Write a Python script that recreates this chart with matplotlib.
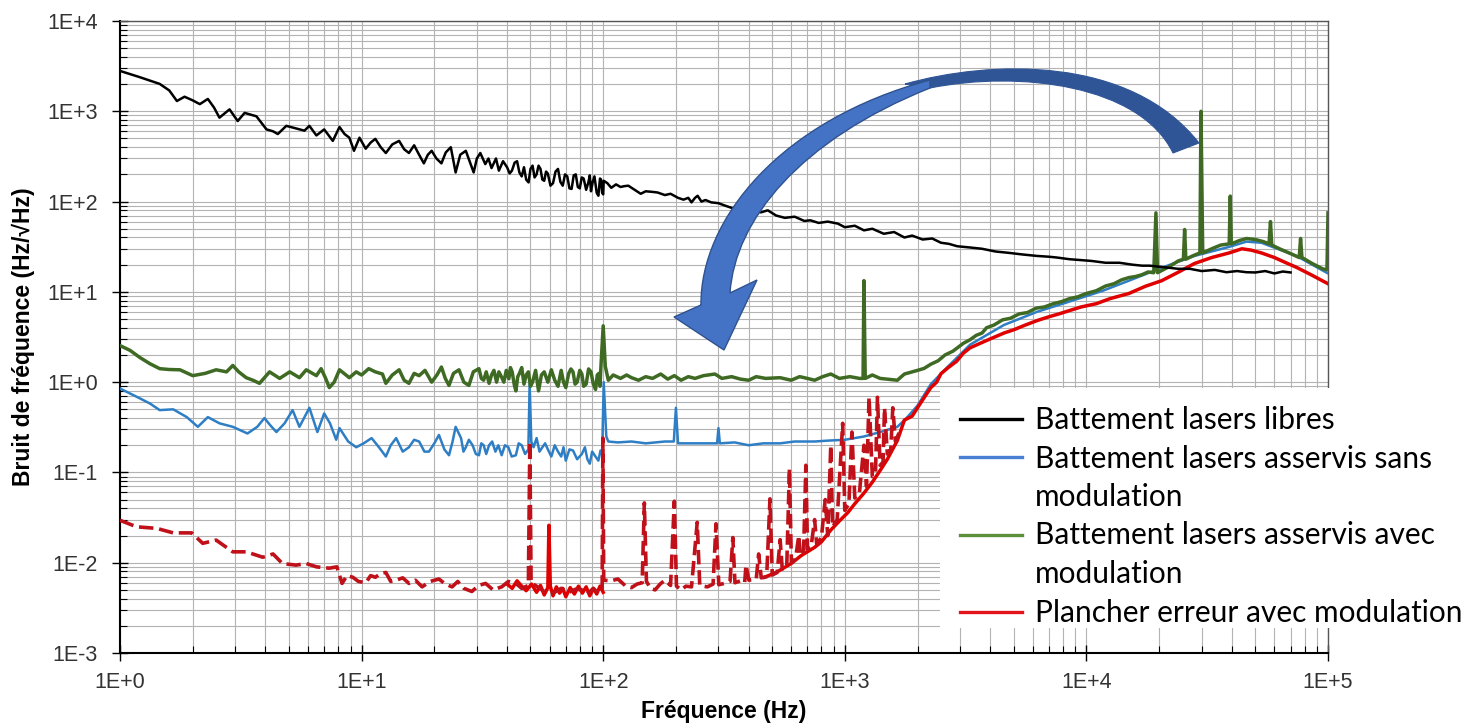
import matplotlib
matplotlib.use("Agg")
import matplotlib.pyplot as plt
import numpy as np
from matplotlib.ticker import LogLocator, FuncFormatter, NullFormatter
from matplotlib.path import Path
from matplotlib.patches import PathPatch, Rectangle
from matplotlib.lines import Line2D

# ---- values (frequency Hz, noise Hz/sqrt(Hz)) ----
libres = [(1.0, 2800), (1.2, 2400), (1.46, 2010), (1.6, 1700), (1.72, 1300), (1.85, 1450),
          (2.0, 1320), (2.14, 1200), (2.31, 1370), (2.45, 1100), (2.58, 850), (2.84, 1050),
          (3.07, 780), (3.28, 960), (3.67, 880), (4.04, 630), (4.3, 600), (4.5, 560),
          (4.88, 690), (5.3, 650), (5.8, 610), (6.08, 690), (6.5, 540), (7.0, 630),
          (7.6, 470), (8.1, 670), (8.5, 560), (8.9, 510), (9.3, 365), (9.8, 510),
          (10.4, 385), (10.9, 450), (11.4, 495), (12.0, 400), (12.6, 345), (13.4, 430),
          (14.3, 470), (15.0, 380), (15.7, 345), (16.5, 420), (17.3, 330), (18.1, 265),
          (18.8, 330), (19.5, 365), (20.4, 300), (21.4, 265), (22.3, 350), (23.4, 400),
          (24.5, 210), (25.6, 330), (27.0, 365), (28.0, 280), (29.1, 210), (30.0, 300),
          (31.0, 345), (32.5, 260), (33.5, 300), (34.5, 235), (36.0, 300), (37.0, 220),
          (38.5, 280), (40.0, 240), (41, 205), (41.9, 220), (43, 270), (44.0, 280),
          (45, 210), (46.0, 190), (47, 240), (48, 175), (49.1, 163), (50, 230), (51, 250),
          (52, 185), (53, 200), (54, 250), (55, 230), (56, 175), (57, 170), (58, 215),
          (59, 204), (60.5, 150), (62, 160), (63.5, 215), (65, 230), (66.5, 165), (68, 150),
          (69.5, 200), (71, 190), (72.5, 140), (74, 138), (75.5, 195), (77, 200),
          (78.5, 145), (80, 140), (81.5, 185), (83, 180), (85, 135), (86.8, 163), (88, 195),
          (89, 130), (90.5, 165), (92, 190), (94, 125), (95.5, 116), (97, 180), (98, 175),
          (99, 125), (100, 120), (100.5, 170), (104, 160), (108, 142), (113, 155),
          (118, 145), (122, 148), (127, 150), (135, 135), (143, 122), (150, 130),
          (160, 128), (168, 126), (180, 118), (190, 122), (204, 110), (215, 105),
          (225, 110), (232, 98), (240, 110), (246, 116), (255, 100), (265, 104), (280, 98),
          (300, 96), (320, 90), (350, 83), (380, 86), (410, 78), (450, 76), (480, 80),
          (520, 70), (565, 66), (620, 68), (680, 61), (720, 62), (780, 58), (850, 60),
          (936, 57), (1000, 52), (1100, 54), (1200, 48), (1300, 50), (1450, 44),
          (1600, 46), (1765, 40), (1900, 42), (2100, 38), (2300, 39), (2500, 35),
          (2700, 34), (2920, 32), (3300, 31), (3700, 30), (4200, 28), (4800, 27),
          (5400, 26), (6240, 25), (7000, 24.5), (7550, 24), (8500, 23), (9500, 22.5),
          (10500, 22), (12000, 21), (13700, 21), (15500, 20), (17000, 19.5), (18300, 19.5),
          (20000, 19), (22000, 18.5), (24000, 18), (26800, 18), (30000, 17), (34000, 17.5),
          (38000, 16.5), (42000, 17), (46000, 16.5), (50000, 16.4), (55000, 17),
          (60000, 16), (65000, 16.8), (70000, 16.4)]

avec_mod = [(1.0, 2.54), (1.1, 2.25), (1.21, 1.87), (1.33, 1.6), (1.46, 1.41), (1.6, 1.38),
            (1.77, 1.37), (2.0, 1.18), (2.25, 1.25), (2.5, 1.37), (2.76, 1.3), (2.93, 1.53),
            (3.1, 1.3), (3.33, 1.12), (3.55, 1.05), (3.78, 0.97), (4.16, 1.3), (4.58, 1.1),
            (5.04, 1.3), (5.53, 1.12), (5.9, 1.37), (6.5, 1.18), (6.8, 1.41), (7.1, 1.1),
            (7.35, 0.87), (7.7, 1.0), (8.1, 1.37), (8.9, 1.12), (9.5, 1.3), (10.0, 1.2),
            (10.7, 1.41), (11.4, 1.3), (12.2, 1.23), (12.6, 0.97), (13.4, 1.2), (14.3, 1.37),
            (15.0, 1.05), (15.7, 0.97), (16.5, 1.25), (17.3, 1.18), (18.3, 1.35), (19.5, 1.0),
            (20.5, 1.2), (21.4, 1.47), (22.2, 1.1), (23.0, 0.92), (24.0, 1.25), (25.3, 1.37),
            (26.5, 1.0), (27.8, 0.92), (29.0, 1.3), (30.6, 1.41), (31.3, 1.1), (32.0, 1.05),
            (32.8, 1.3), (33.7, 0.97), (34.5, 1.2), (35.3, 1.35), (36.2, 1.0), (37.0, 1.3),
            (37.9, 1.15), (38.8, 1.0), (39.7, 1.35), (40.7, 1.09), (41.3, 1.45), (42.0, 1.3),
            (42.8, 0.95), (43.5, 0.8), (44.3, 1.15), (45, 1.25), (46, 1.45), (47, 0.95),
            (48, 1.2), (49, 1.3), (50, 0.9), (51, 1.0), (52.5, 1.35), (54, 0.8), (55.5, 1.2),
            (57, 1.3), (59, 1.0), (61, 1.37), (63, 1.05), (65, 0.9), (67, 1.35), (68.5, 1.0),
            (70, 0.87), (72, 1.25), (73.5, 1.4), (75, 1.3), (76.5, 0.95), (78, 1.0),
            (80, 1.35), (81.6, 1.23), (83, 0.9), (85, 0.95), (87, 1.4), (89, 1.3), (91, 0.95),
            (93, 0.83), (94.5, 1.2), (96, 1.25), (97, 0.9), (98, 1.6), (100, 4.2), (102, 1.5),
            (105, 1.05), (110, 1.2), (118, 1.1), (125, 1.2), (131, 1.12), (140, 1.05),
            (150, 1.15), (160, 1.1), (173, 1.23), (185, 1.08), (197, 1.18), (210, 1.05),
            (225, 1.15), (240, 1.1), (260, 1.18), (290, 1.23), (310, 1.1), (340, 1.15),
            (370, 1.08), (400, 1.05), (430, 1.15), (470, 1.1), (540, 1.12), (600, 1.05),
            (650, 1.15), (700, 1.1), (750, 1.05), (810, 1.15), (875, 1.23), (950, 1.1),
            (1050, 1.15), (1150, 1.1), (1190, 1.1), (1200, 13.3), (1215, 1.1), (1300, 1.2),
            (1400, 1.1), (1500, 1.08), (1650, 1.05), (1765, 1.23), (2000, 1.35), (2130, 1.42),
            (2270, 1.58), (2430, 1.72), (2600, 2.0), (2800, 2.2), (3100, 2.7), (3300, 2.95),
            (3500, 3.3), (3700, 3.5), (3860, 4.0), (4150, 4.3), (4500, 4.9), (4850, 5.1),
            (5270, 5.7), (5700, 5.9), (6200, 6.6), (6700, 6.8), (7300, 7.4), (7900, 7.8),
            (8500, 8.4), (9200, 8.8), (10000, 9.6), (11000, 10.3), (12000, 11.6),
            (13000, 12.3), (14000, 13.6), (15000, 14.4), (16000, 14.8), (17000, 15.5),
            (18000, 16.6), (19000, 16.3), (19400, 75), (19700, 16.3), (22000, 19),
            (24000, 22), (25200, 23), (25500, 49), (25800, 23), (27500, 25), (29500, 27),
            (29800, 1000), (30300, 27), (33000, 30), (36000, 33), (39000, 34), (39400, 115),
            (39800, 34), (43000, 37), (46000, 39), (50000, 38), (54000, 36), (57000, 34),
            (57800, 60), (58500, 33), (63000, 30), (69000, 27), (76000, 24), (77000, 39),
            (78000, 24), (86000, 20.6), (95000, 18), (99000, 17.5), (100000, 75)]

sans_mod = [(1.0, 0.85), (1.1, 0.75), (1.21, 0.66), (1.33, 0.58), (1.46, 0.49), (1.66, 0.5),
            (1.89, 0.41), (2.1, 0.32), (2.31, 0.41), (2.58, 0.35), (2.93, 0.32), (3.37, 0.27),
            (3.7, 0.32), (3.96, 0.40), (4.2, 0.33), (4.44, 0.28), (4.8, 0.35), (5.18, 0.49),
            (5.53, 0.32), (6.08, 0.52), (6.56, 0.28), (7.0, 0.45), (7.4, 0.35), (7.85, 0.23),
            (8.1, 0.31), (8.8, 0.22), (9.5, 0.19), (10.2, 0.21), (11.0, 0.24), (11.8, 0.19),
            (12.6, 0.15), (13.2, 0.2), (13.9, 0.24), (14.8, 0.17), (15.7, 0.19), (16.5, 0.23),
            (17.3, 0.22), (18.2, 0.17), (19.0, 0.17), (20.0, 0.21), (20.9, 0.26), (22.0, 0.18),
            (23.0, 0.155), (23.8, 0.22), (24.5, 0.32), (25.8, 0.24), (26.4, 0.17), (27.0, 0.19),
            (27.8, 0.23), (28.8, 0.2), (29.7, 0.16), (30.6, 0.155), (31.3, 0.21), (32.0, 0.2),
            (32.8, 0.16), (33.7, 0.2), (34.7, 0.22), (35.8, 0.17), (36.8, 0.2), (38.0, 0.155),
            (39.2, 0.2), (40.5, 0.19), (41.8, 0.15), (43.5, 0.155), (44.7, 0.21), (46, 0.2),
            (47.5, 0.16), (49, 0.18), (49.6, 0.96), (50.4, 0.22), (51.5, 0.19), (53, 0.24),
            (54.5, 0.17), (56, 0.19), (57.5, 0.21), (59, 0.18), (61, 0.15), (63, 0.2),
            (65, 0.17), (67, 0.15), (68.5, 0.19), (70, 0.135), (72.5, 0.18), (75, 0.175),
            (78, 0.14), (81.6, 0.16), (84, 0.19), (86, 0.14), (88, 0.125), (90, 0.17),
            (93, 0.15), (95.5, 0.135), (97.5, 0.175), (99, 0.16), (100.5, 1.0), (103, 0.25),
            (105, 0.22), (115, 0.215), (131, 0.22), (150, 0.21), (180, 0.22), (196, 0.22),
            (200, 0.52), (204, 0.21), (246, 0.21), (296, 0.21), (300, 0.31), (304, 0.21),
            (350, 0.215), (400, 0.2), (460, 0.21), (540, 0.21), (620, 0.22), (750, 0.22),
            (850, 0.225), (1000, 0.23), (1200, 0.25), (1400, 0.28), (1650, 0.32), (1800, 0.4),
            (2000, 0.55), (2270, 0.95), (2680, 1.5), (3300, 2.6), (4560, 4.3), (6240, 6.0),
            (8500, 7.8), (11600, 10.2), (15000, 13.3), (20500, 18.5), (28000, 25),
            (39000, 31.5), (46000, 36), (53000, 35), (74000, 25), (100000, 16)]

plancher_pointille = [(1.0, 0.0295), (1.17, 0.025), (1.42, 0.024), (1.66, 0.0214), (1.98, 0.0214),
                      (2.2, 0.0164), (2.5, 0.0178), (2.93, 0.0132), (3.33, 0.0132), (3.9, 0.0115),
                      (4.3, 0.0125), (4.7, 0.0098), (5.35, 0.0094), (5.9, 0.0098), (6.5, 0.009),
                      (7.35, 0.0087), (7.9, 0.009), (8.3, 0.0059), (8.7, 0.0072), (9.2, 0.0069),
                      (9.7, 0.0062), (10.4, 0.006), (10.9, 0.0072), (11.4, 0.0069), (12.0, 0.0076),
                      (12.6, 0.0078), (13.2, 0.0062), (13.9, 0.0064), (14.8, 0.0068), (15.7, 0.0059),
                      (16.7, 0.0064), (17.8, 0.0054), (19.2, 0.0062), (20.9, 0.0066), (22.2, 0.0058),
                      (23.7, 0.0054), (25.0, 0.0062), (26.5, 0.0052), (28.6, 0.0048), (30.5, 0.0056),
                      (32.6, 0.0059), (35.0, 0.005), (38.0, 0.0054), (40.5, 0.0062), (43.5, 0.0059),
                      (46, 0.0052), (49, 0.0056), (49.7, 0.22), (50.3, 0.006), (53, 0.0055),
                      (57, 0.0048), (62, 0.0046), (67, 0.0052), (72, 0.0047), (77, 0.0051),
                      (81.6, 0.005), (86, 0.0045), (91, 0.0052), (95.5, 0.0046), (99, 0.005),
                      (99.7, 0.24), (100.5, 0.0064), (108, 0.0063), (115, 0.0066), (124, 0.0055),
                      (131, 0.0053), (138, 0.0058), (145, 0.006), (148, 0.046), (151, 0.0062),
                      (157, 0.0052), (164, 0.005), (172, 0.0058), (180, 0.0064), (190, 0.0056),
                      (197, 0.048), (201, 0.0055), (210, 0.005), (220, 0.0055), (232, 0.0054),
                      (245, 0.028), (251, 0.0056), (270, 0.0054), (285, 0.0058), (293, 0.027),
                      (301, 0.0057), (317, 0.0059), (335, 0.0062), (344, 0.019), (351, 0.006),
                      (370, 0.0063), (385, 0.006), (390, 0.0094), (401, 0.0064), (430, 0.0066),
                      (440, 0.0125), (451, 0.0068), (475, 0.007), (490, 0.051), (501, 0.0073),
                      (525, 0.0078), (540, 0.018), (551, 0.0085), (575, 0.009), (590, 0.11),
                      (601, 0.01), (625, 0.011), (645, 0.02), (655, 0.012), (675, 0.013),
                      (690, 0.12), (701, 0.014), (725, 0.015), (750, 0.03), (765, 0.016),
                      (800, 0.019), (830, 0.05), (850, 0.02), (875, 0.2), (890, 0.025),
                      (930, 0.03), (980, 0.35), (1000, 0.038), (1040, 0.045), (1070, 0.28),
                      (1100, 0.052), (1150, 0.06), (1200, 0.2), (1230, 0.07), (1260, 0.68),
                      (1300, 0.09), (1340, 0.1), (1365, 0.68), (1400, 0.12), (1440, 0.13),
                      (1460, 0.52), (1500, 0.16), (1550, 0.18), (1580, 0.52), (1620, 0.22),
                      (1700, 0.3)]

plancher_bas = [(40, 0.0058), (42, 0.0052), (44, 0.0063), (46, 0.0055), (48, 0.0049),
                (50.5, 0.0058), (53, 0.0047), (55, 0.0056), (57, 0.0044), (59, 0.0053),
                (59.6, 0.026), (60.4, 0.0055), (62, 0.0043), (64, 0.0054), (66, 0.0046),
                (68, 0.0052), (70, 0.0042), (73, 0.0053), (76, 0.0045), (79, 0.0055),
                (82, 0.0046), (85, 0.0054), (88, 0.0043), (91, 0.0052), (94, 0.0045),
                (97, 0.0055), (100, 0.0047)]

plancher_haut = [(465, 0.0069), (520, 0.0078), (600, 0.0098), (660, 0.012), (750, 0.0148),
                 (800, 0.017), (875, 0.023), (950, 0.029), (1030, 0.036), (1100, 0.045),
                 (1200, 0.059), (1300, 0.078), (1400, 0.105), (1500, 0.14), (1650, 0.226),
                 (1765, 0.38), (1900, 0.42), (2000, 0.52), (2150, 0.7), (2270, 0.87), (2400, 1.0),
                 (2500, 1.24), (2680, 1.45), (2900, 1.7), (3100, 2.1), (3300, 2.4), (3700, 2.75),
                 (4100, 3.1), (4560, 3.5), (5000, 3.8), (5600, 4.3), (6240, 4.8), (7000, 5.3),
                 (7700, 5.7), (8500, 6.2), (9500, 6.8), (11000, 7.4), (12500, 8.4), (15000, 9.6),
                 (17500, 11.5), (20500, 13.3), (24000, 16.5), (28000, 20.6), (33000, 24),
                 (39000, 27), (44000, 30), (48000, 29), (53000, 27), (60000, 24), (67000, 21),
                 (74000, 18.7), (85000, 15.5), (100000, 12.3)]

legend_labels = ["Battement lasers libres",
                 "Battement lasers asservis sans\nmodulation",
                 "Battement lasers asservis avec\nmodulation",
                 "Plancher erreur avec modulation"]
legend_colors = ["#000000", "#4a7fd6", "#5b8f3a", "#e3151b"]

W, H = 1466, 724
fig = plt.figure(figsize=(W / 100, H / 100), dpi=100)
ax = fig.add_axes([120 / W, 1 - 653 / H, 1208 / W, 632 / H])


def pts(series):
    a = np.array(series, dtype=float)
    return a[:, 0], a[:, 1]


x, y = pts(libres)
ax.plot(x, y, color="black", lw=1.8, zorder=4)
x, y = pts(sans_mod)
ax.plot(x, y, color="#2e7ec6", lw=1.8, zorder=3)
for s in (plancher_bas, plancher_haut):
    x, y = pts(s)
    ax.plot(x, y, color="#e00000", lw=2.5, zorder=3.3)
x, y = pts(plancher_pointille)
ax.plot(x, y, color="#c0111a", lw=2.6, dashes=(4, 1.6), zorder=3.4)
x, y = pts(avec_mod)
ax.plot(x, y, color="#3f6a24", lw=2.5, zorder=3.2)

ax.set_xscale("log")
ax.set_yscale("log")
ax.set_xlim(1, 1e5)
ax.set_ylim(1e-3, 1e4)
ax.xaxis.set_major_locator(LogLocator(base=10, numticks=10))
ax.yaxis.set_major_locator(LogLocator(base=10, numticks=12))
ax.xaxis.set_minor_locator(LogLocator(base=10, subs=np.arange(2, 10), numticks=20))
ax.yaxis.set_minor_locator(LogLocator(base=10, subs=np.arange(2, 10), numticks=20))
fmt = FuncFormatter(lambda v, p: f"1E{int(round(np.log10(v))):+d}")
ax.xaxis.set_major_formatter(fmt)
ax.yaxis.set_major_formatter(fmt)
ax.xaxis.set_minor_formatter(NullFormatter())
ax.yaxis.set_minor_formatter(NullFormatter())
ax.grid(True, which="both", color="#b3b3b3", lw=0.8)
ax.set_axisbelow(True)

ax.tick_params(which="major", direction="inout", length=12, width=1, labelsize=15.5,
               labelcolor="#333333", labelfontfamily="Liberation Sans")
ax.tick_params(axis="y", which="major", pad=10)
ax.tick_params(axis="x", which="major", pad=8)
ax.tick_params(which="minor", direction="in", length=5, width=0.8)
for s in ("left", "bottom"):
    ax.spines[s].set_linewidth(1.5)
for s in ("top", "right"):
    ax.spines[s].set_linewidth(1.0)
    ax.spines[s].set_color("#555555")

ax.set_xlabel("Fréquence (Hz)", fontsize=16.5, fontweight="bold",
              family=["Liberation Sans", "DejaVu Sans"])
ax.xaxis.set_label_coords(0.5, -(700 - 653) / 632)
ax.set_ylabel("Bruit de fréquence (Hz/√Hz)", fontsize=16.5, fontweight="bold",
              family=["Liberation Sans", "DejaVu Sans"])
ax.yaxis.set_label_coords(-(120 - 35) / 1208, 0.5)

# legend drawn as a white panel covering the lower right corner
fig.patches.append(Rectangle((940 / W, 1 - 628 / H), (W - 940) / W, 240 / H,
                             transform=fig.transFigure, facecolor="white",
                             edgecolor="none", zorder=10))
row = 0
for lab, col in zip(legend_labels, legend_colors):
    yc = 419 + 38.5 * row
    fig.lines.append(Line2D([960 / W, 1022 / W], [1 - yc / H] * 2, color=col, lw=2.4,
                            transform=fig.transFigure, zorder=11))
    for line in lab.split("\n"):
        fig.text(1035 / W, 1 - (yc + 10) / H, line, fontsize=21.5, family="Lato",
                 va="baseline", ha="left", zorder=11)
        row += 1
        yc = 419 + 38.5 * row

# curved blue arrow, outline given in figure pixels (y downwards) as bezier segments
M, L, C = Path.MOVETO, Path.LINETO, Path.CURVE4
front = [((701, 305), M), ((700, 220), C), ((780, 120), C), ((930, 80), C),
         ((930, 88), L), ((800, 140), C), ((735, 220), C), ((730, 293), C),
         ((757, 280), L), ((724, 350), L), ((674, 317), L), ((701, 305), L)]
back = [((905, 84), M), ((990, 60), C), ((1130, 55), C), ((1199, 143), C),
        ((1173, 153), L), ((1140, 85), C), ((1020, 70), C), ((930, 88), C),
        ((905, 84), L)]


def fig_path(p):
    verts = [(px / W, 1 - py / H) for (px, py), _ in p]
    return Path(verts, [c for _, c in p])


fig.patches.append(PathPatch(fig_path(back), transform=fig.transFigure,
                             facecolor="#2f5597", edgecolor="#2f5597", lw=0.8, zorder=12))
fig.patches.append(PathPatch(fig_path(front), transform=fig.transFigure,
                             facecolor="#4472c4", edgecolor="#2f528f", lw=1.0, zorder=12))

fig.savefig("out.png", dpi=100, facecolor="white")
